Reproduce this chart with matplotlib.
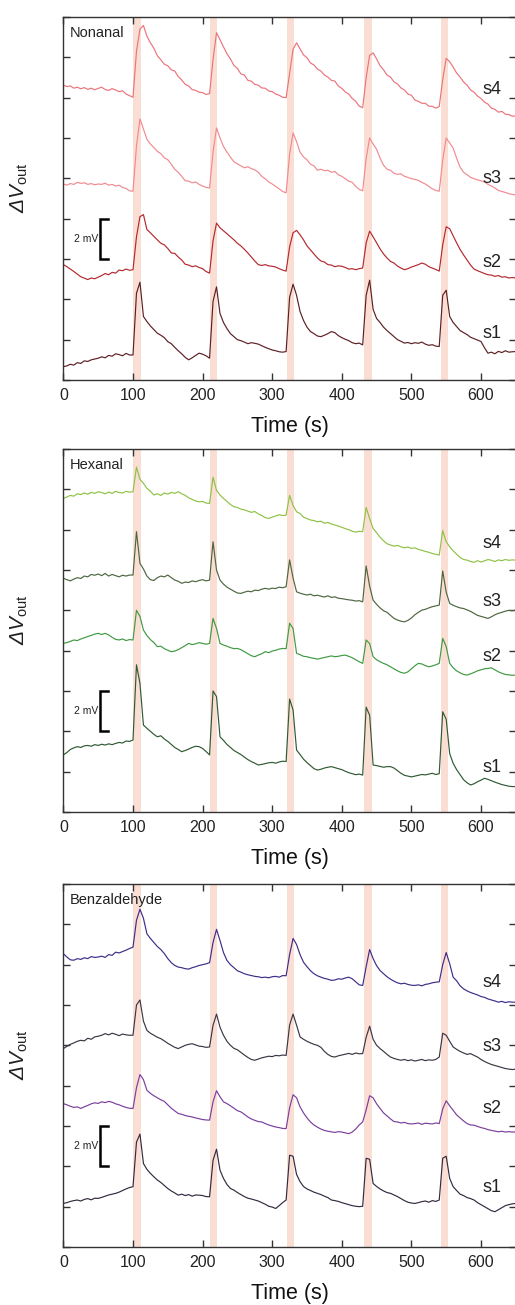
import numpy as np
import matplotlib
matplotlib.use("Agg")
import matplotlib.pyplot as plt

plt.rcParams['font.family'] = ['Liberation Sans', 'DejaVu Sans']
plt.rcParams['mathtext.fontset'] = 'custom'
# rm em italico para o Delta sair inclinado como no original
plt.rcParams['mathtext.rm'] = 'Liberation Sans:italic'
plt.rcParams['mathtext.it'] = 'Liberation Sans:italic'
plt.rcParams['mathtext.sf'] = 'Liberation Sans'

# tempo (s), um ponto a cada 5 s
tempo = np.arange(0, 651, 5)
inicio_pulsos = [100, 210, 321, 432, 542]
duracao_pulso = 11
sensores = ["s1", "s2", "s3", "s4"]

# sinais (mV, com deslocamento vertical de cada sensor)
nonanal_s4 = [14.62, 14.55, 14.58, 14.47, 14.52, 14.44, 14.50, 14.41, 14.47, 14.39,
              14.46, 14.52, 14.40, 14.36, 14.45, 14.38, 14.30, 14.34, 14.18, 14.10,
              14.02, 16.30, 17.40, 17.58, 17.05, 16.72, 16.45, 16.08, 15.88, 15.66,
              15.58, 15.38, 15.32, 15.05, 14.88, 14.66, 14.58, 14.40, 14.36, 14.27,
              14.25, 14.16, 14.20, 15.90, 17.22, 16.88, 16.52, 16.18, 15.92, 15.60,
              15.45, 15.18, 15.12, 14.86, 14.82, 14.66, 14.62, 14.48, 14.47, 14.33,
              14.30, 14.18, 14.12, 14.02, 14.00, 15.20, 16.40, 16.72, 16.42, 16.12,
              15.98, 15.72, 15.62, 15.42, 15.32, 15.12, 15.02, 14.86, 14.82, 14.58,
              14.46, 14.28, 14.18, 13.96, 13.82, 13.58, 13.50, 15.00, 16.10, 16.22,
              15.92, 15.58, 15.38, 15.12, 15.02, 14.78, 14.68, 14.48, 14.38, 14.18,
              14.12, 13.88, 13.82, 13.72, 13.72, 13.58, 13.57, 13.48, 13.56, 14.90,
              15.95, 15.78, 15.52, 15.22, 15.02, 14.78, 14.62, 14.38, 14.27, 14.08,
              13.96, 13.78, 13.68, 13.48, 13.42, 13.28, 13.32, 13.18, 13.16, 13.08,
              13.10]
nonanal_s3 = [9.72, 9.66, 9.74, 9.70, 9.80, 9.75, 9.78, 9.70, 9.74, 9.68,
              9.72, 9.70, 9.76, 9.66, 9.70, 9.62, 9.66, 9.55, 9.50, 9.38,
              9.36, 11.60, 12.95, 12.45, 11.94, 11.70, 11.52, 11.34, 11.22, 11.02,
              10.92, 10.70, 10.45, 10.30, 10.10, 9.88, 9.86, 9.78, 9.82, 9.70,
              9.62, 9.55, 9.52, 11.30, 12.50, 12.00, 11.58, 11.30, 11.05, 10.82,
              10.72, 10.62, 10.52, 10.58, 10.48, 10.42, 10.30, 10.10, 9.98, 9.82,
              9.72, 9.60, 9.48, 9.35, 9.28, 11.20, 12.25, 11.82, 11.30, 11.06,
              10.92, 10.70, 10.62, 10.40, 10.45, 10.38, 10.40, 10.30, 10.34, 10.18,
              10.10, 9.98, 9.86, 9.80, 9.60, 9.45, 9.38, 11.00, 12.00, 11.70,
              11.44, 11.00, 10.65, 10.45, 10.40, 10.25, 10.20, 10.22, 10.10, 10.05,
              9.98, 9.95, 9.90, 9.80, 9.72, 9.60, 9.48, 9.40, 9.36, 10.90,
              12.00, 11.75, 11.50, 11.00, 10.55, 10.30, 10.18, 10.05, 9.98, 9.92,
              9.88, 9.82, 9.70, 9.62, 9.52, 9.40, 9.35, 9.30, 9.24, 9.20,
              9.18]
nonanal_s2 = [5.72, 5.62, 5.50, 5.38, 5.25, 5.12, 5.05, 4.98, 5.06, 5.02,
              5.10, 5.18, 5.28, 5.22, 5.34, 5.30, 5.45, 5.42, 5.50, 5.44,
              5.47, 7.10, 8.10, 8.20, 7.46, 7.30, 7.12, 6.95, 6.78, 6.70,
              6.52, 6.30, 6.28, 6.10, 5.95, 5.74, 5.70, 5.62, 5.66, 5.58,
              5.52, 5.38, 5.30, 6.90, 7.78, 7.55, 7.40, 7.25, 7.10, 6.95,
              6.78, 6.65, 6.48, 6.30, 6.10, 5.90, 5.72, 5.68, 5.72, 5.66,
              5.64, 5.60, 5.52, 5.45, 5.40, 6.60, 7.30, 7.42, 7.20, 6.95,
              6.65, 6.45, 6.25, 6.05, 5.90, 5.85, 5.72, 5.70, 5.62, 5.66,
              5.64, 5.58, 5.50, 5.52, 5.47, 5.52, 5.55, 6.80, 7.38, 7.10,
              6.80, 6.50, 6.25, 6.05, 5.88, 5.80, 5.65, 5.55, 5.47, 5.52,
              5.60, 5.66, 5.72, 5.80, 5.74, 5.62, 5.55, 5.48, 5.40, 6.70,
              7.60, 7.50, 7.15, 6.80, 6.47, 6.20, 5.95, 5.70, 5.50, 5.42,
              5.35, 5.28, 5.22, 5.20, 5.14, 5.18, 5.10, 5.12, 5.06, 5.08,
              5.06]
nonanal_s1 = [0.66, 0.70, 0.78, 0.74, 0.86, 0.82, 0.95, 0.92, 1.00, 1.04,
              1.08, 1.15, 1.10, 1.22, 1.18, 1.30, 1.26, 1.20, 1.32, 1.24,
              1.24, 4.30, 4.85, 3.15, 2.90, 2.68, 2.50, 2.32, 2.22, 2.10,
              1.90, 1.80, 1.62, 1.45, 1.30, 1.12, 1.00, 1.10, 1.22, 1.33,
              1.28, 1.20, 1.08, 3.90, 4.62, 3.30, 2.85, 2.55, 2.30, 2.15,
              2.00, 1.95, 1.88, 1.80, 1.85, 1.82, 1.78, 1.70, 1.62, 1.55,
              1.49, 1.45, 1.40, 1.38, 1.41, 4.10, 4.75, 4.20, 3.40, 2.95,
              2.62, 2.40, 2.30, 2.18, 2.15, 2.22, 2.30, 2.40, 2.35, 2.20,
              2.10, 2.02, 1.95, 1.85, 1.80, 1.83, 1.74, 4.20, 4.95, 3.50,
              3.05, 2.85, 2.62, 2.45, 2.30, 2.15, 2.00, 1.92, 1.83, 1.86,
              1.80, 1.85, 1.82, 1.88, 1.78, 1.72, 1.75, 1.68, 1.66, 4.20,
              4.45, 3.15, 2.85, 2.65, 2.45, 2.35, 2.25, 2.12, 2.05, 1.98,
              1.91, 1.60, 1.33, 1.38, 1.30, 1.42, 1.36, 1.45, 1.38, 1.40,
              1.41]

hexanal_s4 = [15.55, 15.62, 15.70, 15.66, 15.78, 15.74, 15.82, 15.76, 15.85, 15.80,
              15.88, 15.84, 15.78, 15.86, 15.80, 15.90, 15.84, 15.82, 15.90, 15.86,
              15.88, 17.10, 16.50, 16.30, 16.05, 15.90, 15.72, 15.78, 15.70, 15.82,
              15.76, 15.85, 15.80, 15.88, 15.78, 15.70, 15.58, 15.50, 15.42, 15.38,
              15.40, 15.32, 15.30, 16.60, 15.95, 15.72, 15.55, 15.40, 15.25, 15.14,
              15.10, 15.02, 14.98, 14.92, 14.86, 14.90, 14.78, 14.70, 14.60, 14.56,
              14.62, 14.68, 14.74, 14.70, 14.72, 15.70, 15.20, 14.89, 14.80, 14.62,
              14.55, 14.48, 14.45, 14.39, 14.42, 14.32, 14.36, 14.28, 14.23, 14.18,
              14.12, 14.05, 14.00, 13.92, 13.88, 13.92, 13.90, 15.10, 14.55, 14.06,
              13.85, 13.62, 13.45, 13.30, 13.24, 13.18, 13.22, 13.15, 13.10, 13.14,
              13.07, 13.10, 13.02, 12.98, 12.92, 12.88, 12.82, 12.78, 12.74, 13.95,
              13.40, 13.15, 12.95, 12.78, 12.62, 12.52, 12.49, 12.42, 12.38, 12.46,
              12.40, 12.45, 12.52, 12.48, 12.42, 12.50, 12.46, 12.52, 12.48, 12.50,
              12.49]
hexanal_s3 = [11.59, 11.52, 11.46, 11.55, 11.62, 11.58, 11.70, 11.66, 11.78, 11.74,
              11.80, 11.72, 11.83, 11.70, 11.78, 11.72, 11.66, 11.74, 11.70, 11.75,
              11.75, 13.90, 12.33, 12.05, 11.70, 11.52, 11.48, 11.62, 11.70, 11.66,
              11.75, 11.62, 11.50, 11.44, 11.34, 11.40, 11.38, 11.46, 11.42, 11.48,
              11.52, 11.46, 11.50, 13.40, 12.00, 11.50, 11.30, 11.15, 11.05, 10.95,
              10.86, 10.84, 10.90, 10.95, 10.92, 11.00, 10.98, 11.05, 11.09, 11.05,
              11.10, 11.08, 11.15, 11.12, 11.17, 12.50, 11.60, 10.92, 10.85, 10.80,
              10.76, 10.80, 10.72, 10.75, 10.70, 10.66, 10.72, 10.64, 10.67, 10.60,
              10.58, 10.55, 10.52, 10.50, 10.46, 10.48, 10.42, 12.20, 11.20, 10.50,
              10.30, 10.12, 9.98, 9.90, 9.75, 9.60, 9.52, 9.46, 9.43, 9.50,
              9.62, 9.78, 9.90, 10.01, 10.05, 10.12, 10.18, 10.22, 10.26, 11.95,
              10.90, 10.34, 10.25, 10.18, 10.12, 10.09, 10.02, 9.95, 9.85, 9.75,
              9.70, 9.65, 9.60, 9.68, 9.78, 9.85, 9.90, 9.96, 10.00, 9.98,
              10.01]
hexanal_s2 = [8.36, 8.40, 8.46, 8.53, 8.50, 8.58, 8.64, 8.70, 8.76, 8.82,
              8.86, 8.80, 8.86, 8.78, 8.66, 8.56, 8.53, 8.58, 8.50, 8.55,
              8.53, 10.00, 9.70, 9.02, 8.75, 8.55, 8.40, 8.20, 8.22, 8.10,
              8.02, 7.95, 7.98, 8.05, 8.15, 8.25, 8.36, 8.30, 8.34, 8.40,
              8.36, 8.32, 8.36, 9.60, 9.10, 8.36, 8.28, 8.22, 8.15, 8.10,
              8.11, 8.05, 7.95, 7.85, 7.75, 7.70, 7.78, 7.85, 7.95, 7.90,
              7.98, 8.02, 8.08, 8.11, 8.10, 9.36, 9.10, 7.87, 7.80, 7.72,
              7.70, 7.65, 7.62, 7.58, 7.62, 7.66, 7.70, 7.74, 7.70, 7.72,
              7.76, 7.78, 7.72, 7.65, 7.55, 7.45, 7.37, 8.53, 8.35, 7.70,
              7.55, 7.45, 7.37, 7.30, 7.20, 7.10, 7.00, 6.92, 6.88, 6.95,
              7.10, 7.25, 7.37, 7.34, 7.26, 7.20, 7.24, 7.30, 7.37, 8.61,
              8.20, 7.37, 7.15, 7.00, 6.90, 6.82, 6.79, 6.85, 6.92, 7.00,
              7.05, 7.10, 7.12, 7.15, 7.05, 6.95, 6.88, 6.82, 6.80, 6.78,
              6.79]
hexanal_s1 = [2.83, 2.95, 3.10, 3.18, 3.24, 3.20, 3.28, 3.30, 3.26, 3.34,
              3.30, 3.36, 3.32, 3.38, 3.34, 3.40, 3.45, 3.42, 3.52, 3.50,
              3.57, 7.30, 6.38, 4.31, 4.15, 4.00, 3.85, 3.73, 3.78, 3.62,
              3.50, 3.35, 3.20, 3.10, 2.99, 3.05, 3.12, 3.20, 3.26, 3.24,
              3.15, 3.00, 2.83, 6.00, 5.72, 3.73, 3.55, 3.35, 3.20, 3.05,
              2.95, 2.85, 2.72, 2.60, 2.50, 2.42, 2.33, 2.36, 2.40, 2.44,
              2.46, 2.42, 2.48, 2.52, 2.50, 5.60, 5.06, 3.07, 2.85, 2.62,
              2.45, 2.30, 2.15, 2.08, 2.12, 2.18, 2.22, 2.25, 2.20, 2.15,
              2.10, 2.02, 1.95, 1.90, 1.85, 1.88, 1.83, 5.20, 4.80, 2.33,
              2.30, 2.26, 2.22, 2.25, 2.25, 2.18, 2.05, 1.92, 1.82, 1.78,
              1.74, 1.78, 1.82, 1.86, 1.84, 1.88, 1.92, 1.86, 1.90, 4.97,
              4.60, 2.90, 2.41, 2.10, 1.85, 1.60, 1.45, 1.34, 1.40, 1.50,
              1.58, 1.67, 1.62, 1.55, 1.48, 1.42, 1.36, 1.32, 1.28, 1.26,
              1.26]

benzaldehyde_s4 = [14.54, 14.38, 14.24, 14.22, 14.30, 14.26, 14.34, 14.30, 14.40, 14.36,
                   14.38, 14.42, 14.36, 14.50, 14.46, 14.62, 14.58, 14.65, 14.72, 14.80,
                   14.87, 16.20, 16.75, 16.30, 15.53, 15.30, 15.10, 14.90, 14.75, 14.55,
                   14.30, 14.10, 13.96, 13.88, 13.85, 13.80, 13.78, 13.85, 13.90, 13.96,
                   14.00, 14.04, 14.10, 15.10, 15.75, 15.20, 14.60, 14.21, 14.00, 13.85,
                   13.70, 13.63, 13.55, 13.50, 13.46, 13.42, 13.40, 13.36, 13.38, 13.35,
                   13.40, 13.42, 13.38, 13.46, 13.45, 14.50, 15.30, 15.00, 14.50, 14.12,
                   13.90, 13.70, 13.55, 13.45, 13.38, 13.32, 13.28, 13.22, 13.24, 13.30,
                   13.28, 13.34, 13.38, 13.30, 13.15, 13.00, 12.97, 13.90, 14.75, 14.30,
                   13.95, 13.71, 13.55, 13.40, 13.28, 13.18, 13.10, 13.05, 13.08, 13.02,
                   12.98, 12.97, 13.00, 12.95, 13.02, 13.05, 13.10, 13.13, 13.15, 14.00,
                   14.60, 14.05, 13.38, 13.20, 12.95, 12.80, 12.70, 12.62, 12.56, 12.50,
                   12.42, 12.38, 12.30, 12.25, 12.20, 12.14, 12.18, 12.12, 12.16, 12.14,
                   12.14]
benzaldehyde_s3 = [9.84, 9.95, 10.05, 10.12, 10.20, 10.25, 10.22, 10.35, 10.30, 10.42,
                   10.45, 10.50, 10.58, 10.52, 10.60, 10.55, 10.48, 10.56, 10.52, 10.50,
                   10.50, 12.00, 12.25, 11.20, 10.74, 10.60, 10.50, 10.40, 10.33, 10.22,
                   10.10, 10.00, 9.90, 9.84, 9.92, 10.00, 10.05, 10.08, 10.02, 9.96,
                   9.94, 9.90, 9.92, 11.00, 11.55, 10.90, 10.50, 10.20, 10.00, 9.85,
                   9.78, 9.65, 9.52, 9.40, 9.30, 9.26, 9.32, 9.38, 9.42, 9.46,
                   9.44, 9.50, 9.48, 9.52, 9.50, 11.00, 11.55, 11.00, 10.42, 10.30,
                   10.20, 10.12, 10.05, 10.00, 9.90, 9.70, 9.55, 9.45, 9.42, 9.48,
                   9.52, 9.56, 9.60, 9.55, 9.62, 9.58, 9.59, 10.40, 10.95, 10.30,
                   10.00, 9.84, 9.70, 9.55, 9.42, 9.35, 9.30, 9.26, 9.30, 9.24,
                   9.28, 9.22, 9.26, 9.30, 9.24, 9.28, 9.26, 9.30, 9.42, 10.60,
                   10.50, 10.20, 9.92, 9.80, 9.70, 9.62, 9.55, 9.59, 9.50, 9.42,
                   9.30, 9.20, 9.12, 9.05, 9.00, 8.95, 8.90, 8.85, 8.82, 8.80,
                   8.82]
benzaldehyde_s2 = [7.11, 7.05, 6.98, 6.92, 6.95, 6.87, 6.95, 7.02, 7.10, 7.15,
                   7.12, 7.20, 7.16, 7.22, 7.18, 7.10, 7.05, 6.98, 6.92, 6.88,
                   6.87, 7.90, 8.55, 8.30, 7.77, 7.62, 7.50, 7.40, 7.30, 7.22,
                   7.05, 6.88, 6.75, 6.62, 6.58, 6.52, 6.48, 6.45, 6.40, 6.36,
                   6.32, 6.30, 6.29, 7.20, 7.75, 7.45, 7.20, 7.11, 7.00, 6.88,
                   6.76, 6.70, 6.58, 6.45, 6.35, 6.28, 6.22, 6.20, 6.12, 6.05,
                   6.00, 5.95, 5.92, 5.88, 5.87, 6.90, 7.55, 7.40, 6.95, 6.65,
                   6.40, 6.20, 6.05, 5.94, 5.85, 5.78, 5.74, 5.71, 5.68, 5.72,
                   5.70, 5.66, 5.62, 5.70, 5.85, 6.05, 6.20, 6.80, 7.50, 7.40,
                   7.10, 6.87, 6.65, 6.50, 6.35, 6.22, 6.20, 6.15, 6.18, 6.12,
                   6.10, 6.12, 6.15, 6.08, 6.14, 6.12, 6.10, 6.15, 6.12, 6.85,
                   7.25, 7.00, 6.78, 6.55, 6.40, 6.25, 6.12, 6.05, 6.04, 5.98,
                   5.92, 5.88, 5.82, 5.78, 5.75, 5.71, 5.74, 5.70, 5.72, 5.70,
                   5.71]
benzaldehyde_s1 = [2.16, 2.20, 2.26, 2.30, 2.33, 2.28, 2.36, 2.40, 2.34, 2.42,
                   2.41, 2.46, 2.52, 2.58, 2.62, 2.66, 2.72, 2.80, 2.88, 2.95,
                   2.99, 5.20, 5.60, 4.14, 3.85, 3.65, 3.48, 3.32, 3.20, 3.05,
                   2.90, 2.78, 2.68, 2.57, 2.62, 2.55, 2.60, 2.52, 2.58, 2.57,
                   2.55, 2.50, 2.49, 4.30, 4.85, 3.81, 3.40, 3.10, 2.90, 2.82,
                   2.70, 2.60, 2.50, 2.42, 2.38, 2.33, 2.28, 2.20, 2.12, 2.02,
                   1.98, 1.91, 2.05, 2.20, 2.33, 4.55, 4.50, 3.60, 3.24, 3.00,
                   2.88, 2.80, 2.72, 2.66, 2.60, 2.52, 2.45, 2.33, 2.30, 2.26,
                   2.20, 2.15, 2.10, 2.05, 2.02, 2.00, 2.02, 4.40, 4.35, 3.15,
                   3.00, 2.88, 2.78, 2.70, 2.66, 2.58, 2.50, 2.40, 2.30, 2.22,
                   2.18, 2.16, 2.20, 2.25, 2.28, 2.22, 2.30, 2.26, 2.33, 4.40,
                   4.50, 3.40, 2.99, 2.80, 2.62, 2.55, 2.45, 2.40, 2.33, 2.20,
                   2.10, 2.00, 1.90, 1.80, 1.75, 1.85, 1.95, 2.05, 2.10, 2.14,
                   2.16]

cores_nonanal = ["#5c1f24", "#b3292e", "#f08a90", "#ea747b"]
cores_hexanal = ["#2f5a33", "#3f9a42", "#4d6640", "#8ec246"]
cores_benzaldehyde = ["#342a3f", "#7a3f9c", "#3c3644", "#3f2c88"]


def desenhar_painel(fig, bottom, nome, tracos, cores, pos_rotulos, barra_base):
    ax = fig.add_axes([63.4 / 515, bottom, 452.4 / 515, 363 / 1305])
    for t0 in inicio_pulsos:
        ax.axvspan(t0, t0 + duracao_pulso, color="#fbded3", lw=0, zorder=0)
    for tr, cor in zip(tracos, cores):
        ax.plot(tempo, tr, color=cor, lw=0.85, zorder=2)

    ax.set_xlim(0, 650)
    ax.set_ylim(0, 18)
    ax.set_xticks(range(0, 601, 100))
    ax.set_yticks(range(0, 19, 2))
    ax.set_yticklabels([])
    ax.tick_params(direction="in", top=True, right=True, length=5, width=1,
                   labelsize=11.5, pad=6, color="#333333", labelcolor="#222222")
    for sp in ax.spines.values():
        sp.set_color("#333333")
        sp.set_linewidth(1.0)

    ax.set_xlabel("Time (s)", fontsize=15.5, labelpad=9, color="#111111")
    ax.set_ylabel(r"$\Delta V_{\mathsf{out}}$", fontsize=15, color="#222222")
    ax.yaxis.set_label_coords(-0.074, 0.53)

    ax.text(0.014, 0.975, nome, transform=ax.transAxes, ha="left", va="top",
            fontsize=10.5, color="#222222")

    for rot, y in zip(sensores, pos_rotulos):
        ax.text(630, y, rot, ha="right", va="center", fontsize=13, color="#222222")

    # barra de escala de 2 mV
    ax.plot([64.5, 52.6, 52.6, 64.5], [barra_base + 2, barra_base + 2, barra_base, barra_base],
            color="black", lw=1.8, solid_joinstyle="miter", zorder=3)
    ax.text(50, barra_base + 1, "2 mV", ha="right", va="center", fontsize=7.5, color="#222222")
    return ax


fig = plt.figure(figsize=(5.15, 13.05), dpi=100)

desenhar_painel(fig, 1 - 380 / 1305, "Nonanal",
                [nonanal_s1, nonanal_s2, nonanal_s3, nonanal_s4], cores_nonanal,
                [2.3, 5.85, 10.0, 14.4], 6)
desenhar_painel(fig, 1 - 812 / 1305, "Hexanal",
                [hexanal_s1, hexanal_s2, hexanal_s3, hexanal_s4], cores_hexanal,
                [2.2, 7.7, 10.45, 13.3], 4)
desenhar_painel(fig, 1 - 1247 / 1305, "Benzaldehyde",
                [benzaldehyde_s1, benzaldehyde_s2, benzaldehyde_s3, benzaldehyde_s4], cores_benzaldehyde,
                [2.95, 6.85, 9.95, 13.1], 4)

fig.savefig("out.png", dpi=100)
